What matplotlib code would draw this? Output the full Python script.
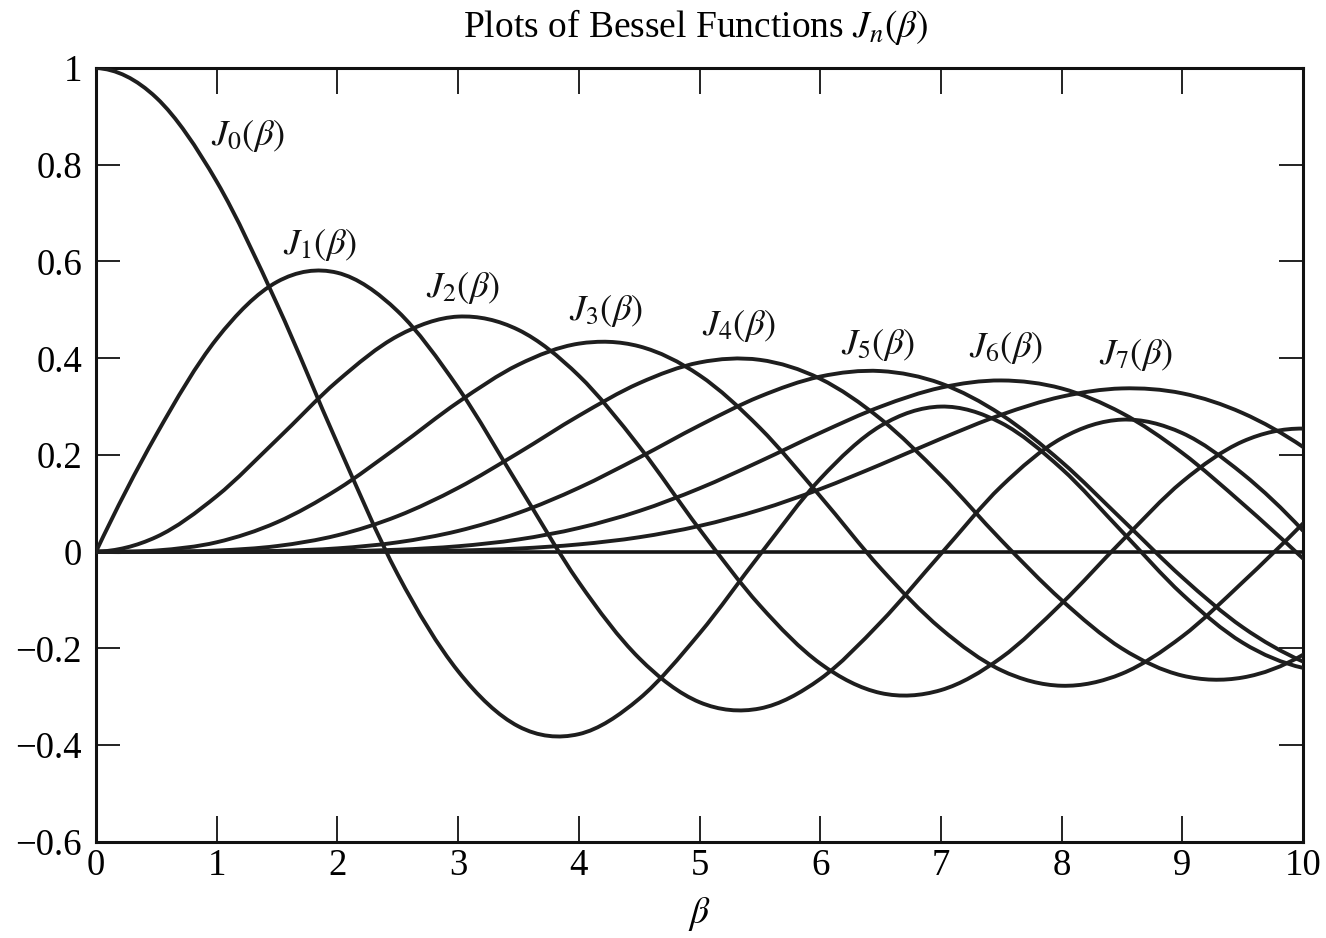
import numpy as np
import matplotlib
matplotlib.use("Agg")
import matplotlib.pyplot as plt
from matplotlib.path import Path
from matplotlib.patches import PathPatch

plt.rcParams['font.family'] = ['Liberation Serif', 'DejaVu Serif']
plt.rcParams['mathtext.fontset'] = 'stix'

# beta samples and J_n(beta) values
beta = [0.0, 0.5, 1.0, 1.5, 2.0, 2.5, 3.0, 3.5, 4.0, 4.5, 5.0,
        5.5, 6.0, 6.5, 7.0, 7.5, 8.0, 8.5, 9.0, 9.5, 10.0]

j0 = [1.0, 0.9385, 0.7652, 0.5118, 0.2239, -0.047, -0.247, -0.361, -0.377, -0.304, -0.169,
      -0.006, 0.1506, 0.2601, 0.3001, 0.2663, 0.1717, 0.0419, -0.088, -0.188, -0.240]
j1 = [0.0, 0.2423, 0.4401, 0.5579, 0.5767, 0.4971, 0.3391, 0.1374, -0.063, -0.220, -0.311,
      -0.324, -0.263, -0.146, -0.0045, 0.1352, 0.2346, 0.2731, 0.2453, 0.1613, 0.0435]
j2 = [0.0, 0.0306, 0.1149, 0.2321, 0.3528, 0.4461, 0.4861, 0.4586, 0.3641, 0.2178, 0.0466,
      -0.111, -0.231, -0.292, -0.286, -0.219, -0.107, 0.0224, 0.1448, 0.2279, 0.2546]
j3 = [0.0, 0.0026, 0.0196, 0.0610, 0.1289, 0.2167, 0.3091, 0.3867, 0.4302, 0.4247, 0.3648,
      0.2561, 0.1148, -0.034, -0.159, -0.245, -0.277, -0.252, -0.175, -0.063, 0.0584]
j4 = [0.0, 0.0002, 0.0025, 0.0118, 0.0340, 0.0738, 0.1320, 0.2044, 0.2811, 0.3484, 0.3912,
      0.3967, 0.3576, 0.2747, 0.1578, 0.0238, -0.100, -0.200, -0.256, -0.260, -0.213]
j5 = [0.0, 0.0, 0.0002, 0.0018, 0.0070, 0.0195, 0.0430, 0.0804, 0.1321, 0.1947, 0.2611,
      0.3209, 0.3621, 0.3735, 0.3479, 0.2834, 0.1858, 0.0670, -0.053, -0.156, -0.227]
j6 = [0.0, 0.0, 0.0, 0.0002, 0.0012, 0.0042, 0.0114, 0.0254, 0.0491, 0.0842, 0.1310,
      0.1868, 0.2458, 0.2999, 0.3392, 0.3541, 0.3376, 0.2866, 0.2043, 0.0993, -0.014]
j7 = [0.0, 0.0, 0.0, 0.0, 0.0002, 0.0008, 0.0025, 0.0067, 0.0152, 0.0300, 0.0534,
      0.0866, 0.1296, 0.1802, 0.2336, 0.2832, 0.3206, 0.3376, 0.3275, 0.2867, 0.2167]

series = [j0, j1, j2, j3, j4, j5, j6, j7]
curve_labels = [r'$J_{%d}(\beta)$' % n for n in range(8)]
# where each curve's name sits (data coords)
label_pos = [(1.26, 0.86), (1.86, 0.635), (3.04, 0.545), (4.23, 0.497),
             (5.33, 0.466), (6.48, 0.428), (7.54, 0.421), (8.62, 0.407)]

x_ticks = [0, 1, 2, 3, 4, 5, 6, 7, 8, 9, 10]
y_ticks = [-0.6, -0.4, -0.2, 0, 0.2, 0.4, 0.6, 0.8, 1]
y_tick_labels = ['\u22120.6', '\u22120.4', '\u22120.2', '0', '0.2', '0.4', '0.6', '0.8', '1']


def smooth_path(xs, ys):
    # cubic Hermite (as Bezier) through the read points
    xs = np.asarray(xs, float)
    ys = np.asarray(ys, float)
    m = np.empty(len(xs))
    m[1:-1] = (ys[2:] - ys[:-2]) / (xs[2:] - xs[:-2])
    m[0] = (-3 * ys[0] + 4 * ys[1] - ys[2]) / (xs[2] - xs[0])
    m[-1] = (3 * ys[-1] - 4 * ys[-2] + ys[-3]) / (xs[-1] - xs[-3])
    verts = [(xs[0], ys[0])]
    codes = [Path.MOVETO]
    for i in range(len(xs) - 1):
        h = xs[i + 1] - xs[i]
        verts += [(xs[i] + h / 3, ys[i] + m[i] * h / 3),
                  (xs[i + 1] - h / 3, ys[i + 1] - m[i + 1] * h / 3),
                  (xs[i + 1], ys[i + 1])]
        codes += [Path.CURVE4] * 3
    return Path(verts, codes)


fig = plt.figure(figsize=(13.26, 9.38), dpi=100)
ax = fig.add_axes([96 / 1326, 1 - 842 / 938, (1303 - 96) / 1326, (842 - 68) / 938])

ax.axhline(0, color='#151515', lw=2.6, zorder=2)
for ys in series:
    ax.add_patch(PathPatch(smooth_path(beta, ys), fill=False, edgecolor='#1e1e1e',
                           lw=2.8, capstyle='round', zorder=3))

for (lx, ly), txt in zip(label_pos, curve_labels):
    ax.text(lx, ly, txt, fontsize=26.5, ha='center', va='center', color='#111')

ax.set_xlim(0, 10)
ax.set_ylim(-0.6, 1)
ax.set_xticks(x_ticks)
ax.set_xticklabels([str(t) for t in x_ticks])
ax.set_yticks(y_ticks)
ax.set_yticklabels(y_tick_labels)
ax.tick_params(axis='x', direction='in', length=19, width=1.3, top=True,
               labelsize=26.5, pad=5, color='#111')
ax.tick_params(axis='y', direction='in', length=17, width=1.3, right=True,
               labelsize=26.5, pad=10, color='#111')
for s in ax.spines.values():
    s.set_linewidth(2.2)
    s.set_color('#111')

ax.set_xlabel(r'$\beta$', fontsize=27, labelpad=8)
fig.text(696 / 1326, 1 - 27 / 938, r'Plots of Bessel Functions $J_n(\beta)$',
         fontsize=27, ha='center', va='center')

fig.savefig('out.png', dpi=100)
